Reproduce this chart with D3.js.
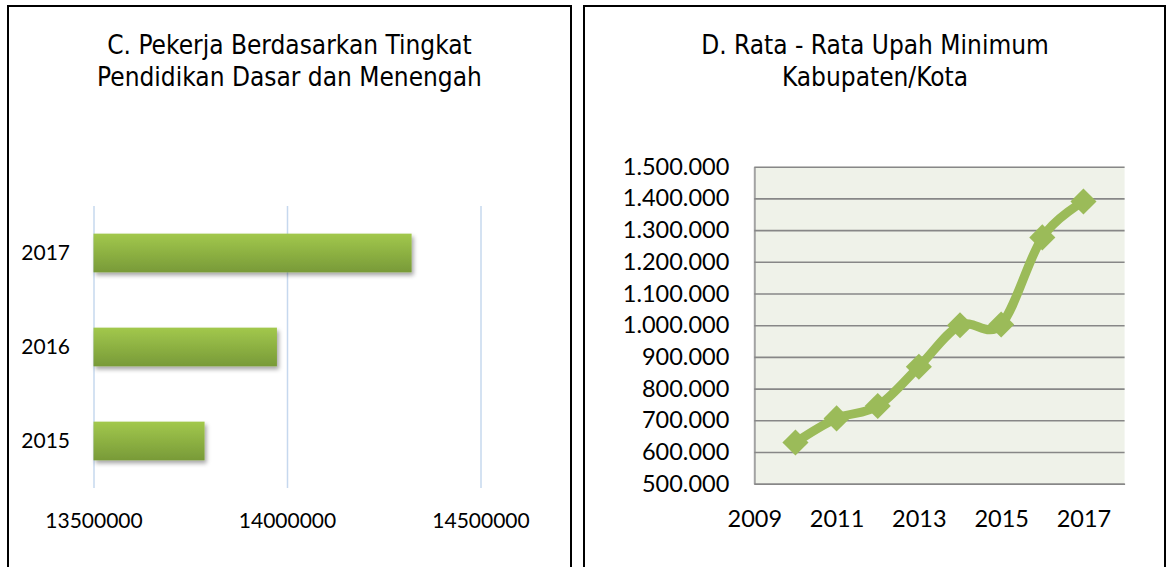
<!DOCTYPE html>
<html lang="id">
<head>
    <meta charset="UTF-8">
    <title>Pekerja dan Upah Minimum</title>
    <script src="https://d3js.org/d3.v7.min.js"></script>
    <style>
        body { margin: 0; background: #fff; }
        .title { font-family: "DejaVu Sans Condensed", "DejaVu Sans", sans-serif; font-size: 26px; fill: #000; }
        .num text { font-family: Lato, "Open Sans", sans-serif; fill: #000; }
    </style>
</head>
<body>
<script>
    // C. pekerja berdasarkan tingkat pendidikan dasar dan menengah
    const pekerjaYears = ["2017", "2016", "2015"];
    const pekerjaValues = [14322000, 13974000, 13787000];
    const pekerjaTicks = [13500000, 14000000, 14500000];

    // D. rata-rata upah minimum kabupaten/kota
    const upahYears = [2010, 2011, 2012, 2013, 2014, 2015, 2016, 2017];
    const upahValues = [630000, 706000, 745000, 869000, 1000000, 1002000, 1277000, 1390000];
    const upahXTicks = [2009, 2011, 2013, 2015, 2017];
    const upahYTicks = [500000, 600000, 700000, 800000, 900000, 1000000, 1100000, 1200000, 1300000, 1400000, 1500000];

    const WIDTH = 1166, HEIGHT = 567;
    const GREEN = "#9bbb59";

    const svg = d3.select("body").append("svg")
        .attr("width", WIDTH).attr("height", HEIGHT);

    const defs = svg.append("defs");
    const grad = defs.append("linearGradient").attr("id", "barGrad")
        .attr("x1", 0).attr("y1", 0).attr("x2", 0).attr("y2", 1);
    grad.append("stop").attr("offset", "0%").attr("stop-color", "#a2c84c");
    grad.append("stop").attr("offset", "100%").attr("stop-color", "#789a38");
    defs.append("filter").attr("id", "shadow")
        .attr("x", "-10%").attr("y", "-20%").attr("width", "130%").attr("height", "160%")
        .append("feDropShadow")
        .attr("dx", 2).attr("dy", 3).attr("stdDeviation", 2.2)
        .attr("flood-color", "#000").attr("flood-opacity", 0.35);

    // panel frames
    svg.append("path")
        .attr("d", "M8,567 V6 H571 V567")
        .attr("fill", "none").attr("stroke", "#000").attr("stroke-width", 2);
    svg.append("path")
        .attr("d", "M584,567 V6 H1165 V567")
        .attr("fill", "none").attr("stroke", "#000").attr("stroke-width", 2);

    function title(lines, cx) {
        const t = svg.append("text").attr("class", "title").attr("text-anchor", "middle");
        lines.forEach((l, i) => {
            t.append("tspan").attr("x", cx).attr("y", 54 + i * 32).text(l);
        });
    }
    title(["C. Pekerja Berdasarkan Tingkat", "Pendidikan Dasar dan Menengah"], 289.5);
    title(["D. Rata - Rata Upah Minimum", "Kabupaten/Kota"], 875);

    // ---- bar chart ----
    const xL = d3.scaleLinear().domain([13500000, 14500000]).range([93.5, 480.5]);
    const yL = d3.scaleBand().domain(pekerjaYears).range([206, 488])
        .paddingInner(0.588).paddingOuter(0.294);

    const gxL = svg.append("g").attr("class", "num")
        .attr("transform", "translate(0,488)")
        .call(d3.axisBottom(xL).tickValues(pekerjaTicks).tickFormat(d3.format("d"))
            .tickSizeInner(-282).tickSizeOuter(0).tickPadding(25));
    gxL.select(".domain").remove();
    gxL.selectAll("line").attr("stroke", "#c6d8ee").attr("stroke-width", 1.5);
    gxL.selectAll("text").attr("font-size", 21);

    svg.append("g").selectAll("rect")
        .data(pekerjaValues)
        .join("rect")
        .attr("x", xL(13500000))
        .attr("y", (d, i) => yL(pekerjaYears[i]))
        .attr("width", d => xL(d) - xL(13500000))
        .attr("height", yL.bandwidth())
        .attr("fill", "url(#barGrad)")
        .attr("filter", "url(#shadow)");

    const gyL = svg.append("g").attr("class", "num")
        .attr("transform", "translate(93.5,0)")
        .call(d3.axisLeft(yL).tickSize(0).tickPadding(23.5));
    gyL.select(".domain").remove();
    gyL.selectAll("text").attr("font-size", 21);

    // ---- line chart ----
    const x0 = 754.3, x1 = 1124.6, yTop = 166.7, yBot = 483.7;
    const xR = d3.scaleLinear().domain([2009, 2018]).range([x0, x1]);
    const yR = d3.scaleLinear().domain([500000, 1500000]).range([yBot, yTop]);
    const fmt = d3.formatLocale({ decimal: ",", thousands: ".", grouping: [3], currency: ["", ""] }).format(",");

    svg.append("rect")
        .attr("x", x0).attr("y", yTop)
        .attr("width", x1 - x0).attr("height", yBot - yTop)
        .attr("fill", "#eff2e9");

    const gyR = svg.append("g").attr("class", "num")
        .attr("transform", `translate(${x0},0)`)
        .call(d3.axisLeft(yR).tickValues(upahYTicks).tickFormat(fmt)
            .tickSizeInner(-(x1 - x0)).tickSizeOuter(0).tickPadding(25));
    gyR.select(".domain").attr("stroke", "#a3a3a3").attr("stroke-width", 2);
    gyR.selectAll(".tick line").attr("stroke", "#878787").attr("stroke-width", 1.6);
    gyR.selectAll("text").attr("font-size", 23.5);

    const gxR = svg.append("g").attr("class", "num")
        .attr("transform", `translate(0,${yBot})`)
        .call(d3.axisBottom(xR).tickValues(upahXTicks).tickFormat(d3.format("d"))
            .tickSize(0).tickPadding(26.6));
    gxR.select(".domain").attr("stroke", "#878787").attr("stroke-width", 1.6);
    gxR.selectAll("text").attr("font-size", 23.5);

    const line = d3.line()
        .x((d, i) => xR(upahYears[i]))
        .y(d => yR(d))
        .curve(d3.curveCardinal.tension(0));

    svg.append("path")
        .datum(upahValues)
        .attr("d", line)
        .attr("fill", "none")
        .attr("stroke", GREEN)
        .attr("stroke-width", 9)
        .attr("stroke-linejoin", "round");

    svg.append("g").selectAll("path")
        .data(upahValues)
        .join("path")
        .attr("d", d3.symbol().type(d3.symbolSquare).size(340))
        .attr("transform", (d, i) => `translate(${xR(upahYears[i])},${yR(d)}) rotate(45)`)
        .attr("fill", GREEN);
</script>
</body>
</html>
